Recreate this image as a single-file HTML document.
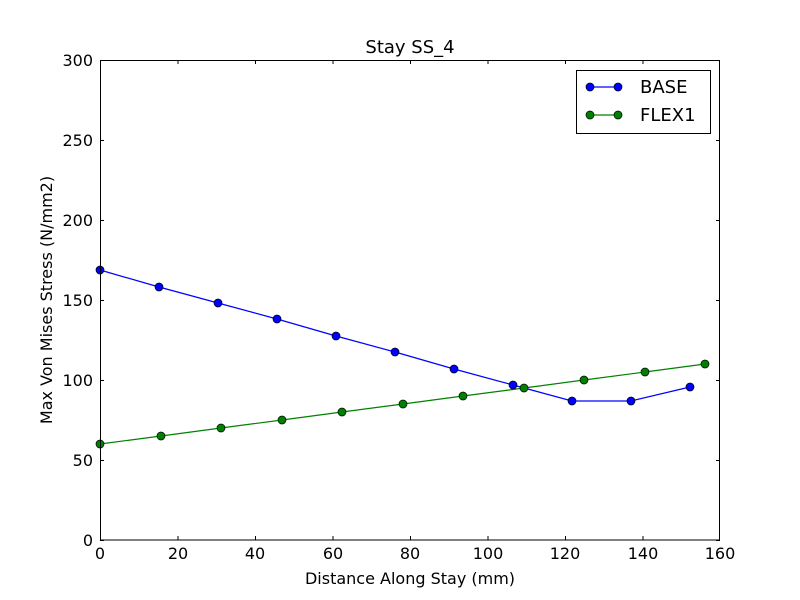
<!DOCTYPE html>
<html><head><meta charset="utf-8"><style>body{margin:0;background:#fff}svg{display:block}</style></head>
<body>
<svg width="800" height="600" xmlns="http://www.w3.org/2000/svg" font-family="'DejaVu Sans','Liberation Sans',sans-serif">
<rect width="800" height="600" fill="#fff"/>
<g stroke="#000" stroke-width="1">
<!-- x ticks -->
<path d="M100.5 540v-4M178 540v-4M255.5 540v-4M333 540v-4M410.5 540v-4M488 540v-4M565.5 540v-4M643 540v-4M719.5 540v-4
M100.5 60v4M178 60v4M255.5 60v4M333 60v4M410.5 60v4M488 60v4M565.5 60v4M643 60v4M719.5 60v4
M100 540.5h4M100 460.5h4M100 380.5h4M100 300.5h4M100 220.5h4M100 140.5h4M100 60.5h4
M720 540.5h-4M720 460.5h-4M720 380.5h-4M720 300.5h-4M720 220.5h-4M720 140.5h-4M720 60.5h-4"/>
</g>
<g font-size="16" text-anchor="middle" fill="#000">
<text x="100" y="559">0</text><text x="178" y="559">20</text><text x="255" y="559">40</text><text x="333" y="559">60</text><text x="410" y="559">80</text><text x="488" y="559">100</text><text x="565" y="559">120</text><text x="643" y="559">140</text><text x="720" y="559">160</text>
</g>
<g font-size="16" text-anchor="end" fill="#000">
<text x="93" y="546">0</text><text x="93" y="466">50</text><text x="93" y="386">100</text><text x="93" y="306">150</text><text x="93" y="226">200</text><text x="93" y="146">250</text><text x="93" y="66">300</text>
</g>
<text x="410" y="53" font-size="18" text-anchor="middle">Stay SS_4</text>
<text x="410" y="584" font-size="16" text-anchor="middle">Distance Along Stay (mm)</text>
<text transform="translate(52,300) rotate(-90)" font-size="16" text-anchor="middle">Max Von Mises Stress (N/mm2)</text>
<polyline fill="none" stroke="#0000ff" stroke-width="1.2" points="100,270 159,287 218,303 277,319 336,336 395,352 454,369 513,385 572,401 631,401 690,387"/>
<polyline fill="none" stroke="#008000" stroke-width="1.2" points="100,444 161,436 221,428 282,420 342,412 403,404 463,396 524,388 584,380 645,372 705,364"/>
<g fill="#0000ff" stroke="#000" stroke-width="0.7">
<circle cx="100" cy="270" r="4"/><circle cx="159" cy="287" r="4"/><circle cx="218" cy="303" r="4"/><circle cx="277" cy="319" r="4"/><circle cx="336" cy="336" r="4"/><circle cx="395" cy="352" r="4"/><circle cx="454" cy="369" r="4"/><circle cx="513" cy="385" r="4"/><circle cx="572" cy="401" r="4"/><circle cx="631" cy="401" r="4"/><circle cx="690" cy="387" r="4"/>
</g>
<g fill="#008000" stroke="#000" stroke-width="0.7">
<circle cx="100" cy="444" r="4"/><circle cx="161" cy="436" r="4"/><circle cx="221" cy="428" r="4"/><circle cx="282" cy="420" r="4"/><circle cx="342" cy="412" r="4"/><circle cx="403" cy="404" r="4"/><circle cx="463" cy="396" r="4"/><circle cx="524" cy="388" r="4"/><circle cx="584" cy="380" r="4"/><circle cx="645" cy="372" r="4"/><circle cx="705" cy="364" r="4"/>
</g>
<rect x="100.5" y="60.5" width="619" height="479.5" fill="none" stroke="#000" stroke-width="1"/>
<rect x="576.5" y="70.5" width="134" height="63" fill="#fff" stroke="#000" stroke-width="1"/>
<line x1="590" y1="87" x2="618" y2="87" stroke="#0000ff" stroke-width="1.2"/>
<circle cx="590" cy="87" r="4" fill="#0000ff" stroke="#000" stroke-width="0.7"/><circle cx="618" cy="87" r="4" fill="#0000ff" stroke="#000" stroke-width="0.7"/>
<line x1="590" y1="115" x2="618" y2="115" stroke="#008000" stroke-width="1.2"/>
<circle cx="590" cy="115" r="4" fill="#008000" stroke="#000" stroke-width="0.7"/><circle cx="618" cy="115" r="4" fill="#008000" stroke="#000" stroke-width="0.7"/>
<text x="640" y="93" font-size="18">BASE</text>
<text x="640" y="121" font-size="18">FLEX1</text>
</svg>
</body></html>
